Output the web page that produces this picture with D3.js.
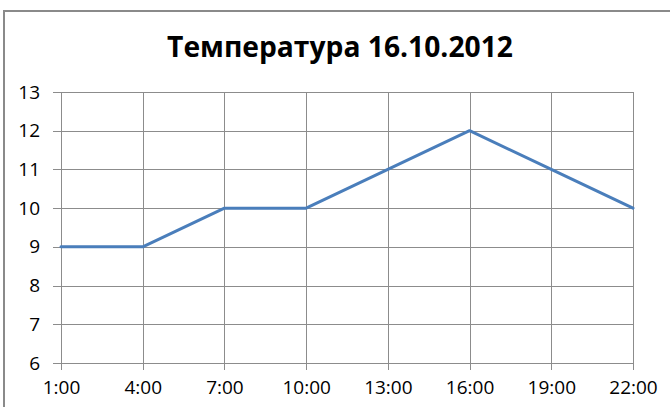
<!DOCTYPE html>
<html>
<head>
<meta charset="utf-8">
<script src="https://cdn.jsdelivr.net/npm/d3@7"></script>
<style>
  body { margin: 0; background: #fff; }
  text { font-family: "Open Sans", "DejaVu Sans", sans-serif; fill: #000; }
</style>
</head>
<body>
<div id="chart"></div>
<script>
// data
var hours = ["1:00", "4:00", "7:00", "10:00", "13:00", "16:00", "19:00", "22:00"];
var temps = [9, 9, 10, 10, 11, 12, 11, 10];
var yTicks = [6, 7, 8, 9, 10, 11, 12, 13];
var title = "Температура 16.10.2012";

var svgWidth = 670;
var svgHeight = 407;

// plot area edges
var margin = { top: 92, right: 37, bottom: 44, left: 61 };
var width = svgWidth - margin.left - margin.right;
var height = svgHeight - margin.top - margin.bottom;

var svg = d3.select("#chart")
    .append("svg")
    .attr("width", svgWidth)
    .attr("height", svgHeight);

// outer chart frame (runs off the right and bottom)
svg.append("rect")
    .attr("x", 4)
    .attr("y", 11)
    .attr("width", 720)
    .attr("height", 500)
    .attr("fill", "none")
    .attr("stroke", "#8a8a8a")
    .attr("stroke-width", 2);

// title, sized to the width seen in the picture
var titleText = svg.append("text")
    .attr("x", 340)
    .attr("y", 57)
    .attr("text-anchor", "middle")
    .style("font-weight", "bold")
    .style("font-size", "26px")
    .text(title);
var tl = titleText.node().getComputedTextLength();
titleText.style("font-size", (26 * 346 / tl) + "px");

var chartGroup = svg.append("g")
    .attr("transform", `translate(${margin.left}, ${margin.top})`);

var xScale = d3.scalePoint()
    .domain(hours)
    .range([0, width]);

var yScale = d3.scaleLinear()
    .domain([6, 13])
    .range([height, 0]);

// gridlines
chartGroup.append("g")
    .attr("class", "grid")
    .call(d3.axisLeft(yScale).tickValues(yTicks).tickSize(-width).tickFormat(""))
    .call(g => g.select(".domain").remove());

chartGroup.append("g")
    .attr("class", "grid")
    .call(d3.axisBottom(xScale).tickSize(height).tickFormat(""))
    .call(g => g.select(".domain").remove());

chartGroup.selectAll(".grid line")
    .attr("stroke", "#8c8c8c")
    .attr("stroke-width", 1)
    .attr("shape-rendering", "crispEdges");

// axes with outside tick marks
var leftAxis = d3.axisLeft(yScale).tickValues(yTicks).tickFormat(d3.format("d"))
    .tickSize(8).tickSizeOuter(0).tickPadding(13);
var bottomAxis = d3.axisBottom(xScale).tickSize(7).tickSizeOuter(0).tickPadding(11);

var yAxisG = chartGroup.append("g").call(leftAxis);
var xAxisG = chartGroup.append("g")
    .attr("transform", `translate(0, ${height})`)
    .call(bottomAxis);

[yAxisG, xAxisG].forEach(function(g) {
    g.select(".domain").attr("stroke", "#8c8c8c").attr("shape-rendering", "crispEdges");
    g.selectAll("line").attr("stroke", "#8c8c8c").attr("shape-rendering", "crispEdges");
    g.selectAll("text")
        .attr("fill", "#000")
        .style("font-size", "19px")
        .style("font-family", "'Open Sans', sans-serif");
});

// temperature line
var line = d3.line()
    .x((d, i) => xScale(hours[i]))
    .y(d => yScale(d));

chartGroup.append("path")
    .datum(temps)
    .attr("d", line)
    .attr("fill", "none")
    .attr("stroke", "#4a7ebb")
    .attr("stroke-width", 3)
    .attr("stroke-linejoin", "round")
    .attr("stroke-linecap", "round");
</script>
</body>
</html>
